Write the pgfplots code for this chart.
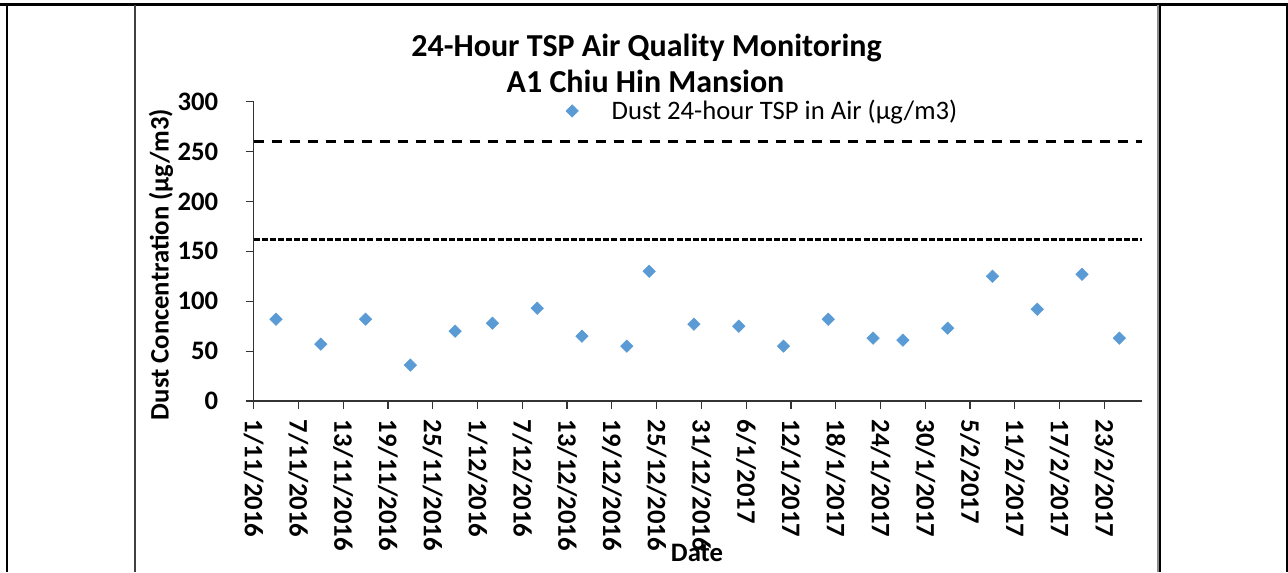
\documentclass[border=0pt]{standalone}
\usepackage{pgfplots}
\pgfplotsset{compat=1.18}
\usepackage{fontspec}
\setmainfont{Carlito}
\definecolor{dustblue}{HTML}{5B9BD5}
\begin{document}
\begin{tikzpicture}[x=0.75pt,y=-0.75pt]
\useasboundingbox (0,0) rectangle (1288,572);
% frame lines
\draw[line width=2.25pt] (0,4) -- (1288,4);
\draw[line width=1.5pt] (7,4) -- (7,572);
\draw[black!75,line width=0.9pt] (135,5) -- (135,572);
\draw[black!45,line width=0.9pt] (1158,5) -- (1158,572);
\draw[line width=1pt] (1160,5) -- (1160,572);
\draw[line width=1.5pt] (1287,4) -- (1287,572);
\begin{axis}[
  at={(190.2pt,-300.75pt)}, anchor=south west,
  scale only axis, width=666.1pt, height=224.5pt,
  xmin=0, xmax=119, ymin=0, ymax=300,
  axis x line=bottom, axis y line=left,
  axis line style={-, black!80, line width=0.9pt},
  tick style={black!80, line width=0.9pt},
  tick align=outside, major tick length=6pt,
  xtick={0,6,...,114},
  xticklabels={1/11/2016,7/11/2016,13/11/2016,19/11/2016,25/11/2016,1/12/2016,7/12/2016,13/12/2016,19/12/2016,25/12/2016,31/12/2016,6/1/2017,12/1/2017,18/1/2017,24/1/2017,30/1/2017,5/2/2017,11/2/2017,17/2/2017,23/2/2017},
  ytick={0,50,...,300},
  yticklabels={0,50,100,150,200,250,300},
  ticklabel style={font=\bfseries\fontsize{20}{24}\selectfont},
  xticklabel style={rotate=-90, anchor=west},
  xticklabel shift=4.5pt,
  yticklabel style={anchor=east, xshift=-17pt},
  legend style={at={(0.3514,0.969)}, anchor=west, draw=none, fill=none,
    font=\fontsize{20}{24}\selectfont, inner sep=0pt,
    /tikz/every odd column/.append style={column sep=23pt}},
  clip=false,
]
\addplot[only marks, mark=square*, mark size=3.3pt, mark options={rotate=45, fill=dustblue, draw=dustblue}]
  coordinates {
  (3,82) (9,57) (15,82) (21,36) (27,70) (32,78) (38,93) (44,65) (50,55) (53,130)
  (59,77) (65,75) (71,55) (77,82) (83,63) (87,61) (93,73) (99,125) (105,92) (111,127) (116,63)
  };
\addlegendentry{Dust 24-hour TSP in Air (µg/m3)}
\addplot[black, line width=1.9pt, dash pattern=on 8pt off 5.5pt, forget plot] coordinates {(0,260) (119,260)};
\addplot[black, line width=1.9pt, dash pattern=on 4.5pt off 1.6pt, forget plot] coordinates {(0,162) (119,162)};
\end{axis}
\node[font=\bfseries\fontsize{24}{29}\selectfont, anchor=base] at (646.5,56) {24-Hour TSP Air Quality Monitoring};
\node[font=\bfseries\fontsize{24}{29}\selectfont, anchor=base] at (645.5,92) {A1 Chiu Hin Mansion};
\node[font=\bfseries\fontsize{20}{24}\selectfont, rotate=90] at (161,264.5) {Dust Concentration (µg/m3)};
\node[font=\bfseries\fontsize{20}{24}\selectfont, anchor=base] at (697,561) {Date};
\end{tikzpicture}
\end{document}
